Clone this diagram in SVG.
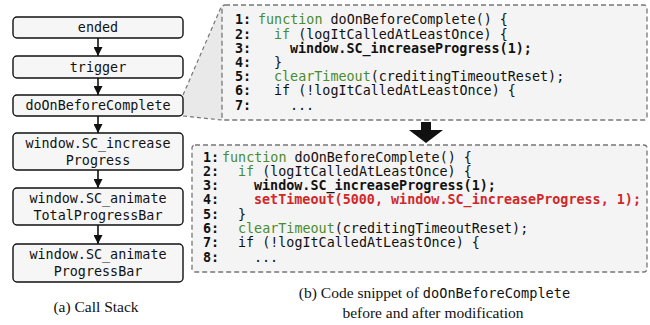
<svg xmlns="http://www.w3.org/2000/svg" width="650" height="325" viewBox="0 0 650 325">
<defs>
<style>
.box{fill:#f6f6f6;stroke:#111;stroke-width:1.4}
.code{fill:#f4f4f4;stroke:#777;stroke-width:1.3;stroke-dasharray:5,3}
.mono{font-family:"DejaVu Sans Mono","Liberation Mono",monospace;font-size:13.4px;fill:#111}
.lbl{text-anchor:middle}
.num{font-weight:bold}
.kw{fill:#4a8b2c}
.b{font-weight:bold}
.red{fill:#d0282a;font-weight:bold}
.cap{font-family:"Liberation Serif","Times New Roman",serif;font-size:15.5px;fill:#111;text-anchor:middle}
.conn{stroke:#111;stroke-width:1.6;fill:none}
</style>
<marker id="ah" viewBox="0 0 10 10" refX="10" refY="5" markerWidth="9" markerHeight="9" markerUnits="userSpaceOnUse" orient="auto">
<path d="M0,0 L10,5 L0,10 z" fill="#111"/>
</marker>
</defs>

<!-- zoom trapezoid -->
<g id="zoom">
<path d="M183,95 L222,5 L222,120 L183,116 Z" fill="#e9e9e9"/>
<path d="M183,95 L222,5 M183,116 L222,120" stroke="#777" stroke-width="1.2" stroke-dasharray="4,3" fill="none"/>
</g>

<g id="connectors">
<line class="conn" x1="98" y1="38" x2="98" y2="56" marker-end="url(#ah)"/>
<line class="conn" x1="98" y1="78" x2="98" y2="95" marker-end="url(#ah)"/>
<line class="conn" x1="98" y1="116" x2="98" y2="133" marker-end="url(#ah)"/>
<line class="conn" x1="98" y1="170" x2="98" y2="188" marker-end="url(#ah)"/>
<line class="conn" x1="98" y1="225" x2="98" y2="244" marker-end="url(#ah)"/>
<path id="blockarrow" d="M421,122 L431,122 L431,130 L443,130 L426,143 L409,130 L421,130 Z" fill="#111"/>
</g>

<g id="n-ended"><rect class="box" x="13" y="17" width="170" height="21" rx="4"/><text class="mono lbl" x="98" y="32">ended</text></g>
<g id="n-trigger"><rect class="box" x="13" y="56" width="170" height="22" rx="4"/><text class="mono lbl" x="98" y="71.5">trigger</text></g>
<g id="n-doOnBeforeComplete"><rect class="box" x="13" y="95" width="170" height="21" rx="4"/><text class="mono lbl" x="98" y="110">doOnBeforeComplete</text></g>
<g id="n-increase"><rect class="box" x="13" y="133" width="170" height="37" rx="4"/><text class="mono lbl" x="98" y="147.5">window.SC_increase</text><text class="mono lbl" x="98" y="164.5">Progress</text></g>
<g id="n-animateTotal"><rect class="box" x="13" y="188" width="170" height="37" rx="4"/><text class="mono lbl" x="98" y="202.5">window.SC_animate</text><text class="mono lbl" x="98" y="219.5">TotalProgressBar</text></g>
<g id="n-animateBar"><rect class="box" x="13" y="244" width="170" height="38" rx="4"/><text class="mono lbl" x="98" y="259">window.SC_animate</text><text class="mono lbl" x="98" y="276">ProgressBar</text></g>

<text class="cap" x="96" y="312">(a) Call Stack</text>

<!-- top code snippet -->
<g id="code-before">
<rect class="code" x="222" y="5" width="425" height="115" rx="3"/>
<g class="mono num">
<text x="235" y="24.4">1:</text>
<text x="235" y="38.6">2:</text>
<text x="235" y="52.8">3:</text>
<text x="235" y="67">4:</text>
<text x="235" y="81.2">5:</text>
<text x="235" y="95.4">6:</text>
<text x="235" y="109.6">7:</text>
</g>
<text class="mono" x="258" y="24.4"><tspan class="kw">function</tspan> doOnBeforeComplete() {</text>
<text class="mono" x="274" y="38.6"><tspan class="kw">if</tspan> (logItCalledAtLeastOnce) {</text>
<text class="mono b" x="290" y="52.8">window.SC_increaseProgress(1);</text>
<text class="mono" x="274" y="67">}</text>
<text class="mono" x="274" y="81.2"><tspan class="kw">clearTimeout</tspan>(creditingTimeoutReset);</text>
<text class="mono" x="274" y="95.4">if (!logItCalledAtLeastOnce) {</text>
<text class="mono" x="290" y="109.6">...</text>
</g>

<!-- bottom code snippet -->
<g id="code-after">
<rect class="code" x="192" y="145" width="455" height="127" rx="3"/>
<g class="mono num">
<text x="203" y="161.5">1:</text>
<text x="203" y="175.8">2:</text>
<text x="203" y="190.1">3:</text>
<text x="203" y="204.4">4:</text>
<text x="203" y="218.7">5:</text>
<text x="203" y="233">6:</text>
<text x="203" y="247.3">7:</text>
<text x="203" y="261.6">8:</text>
</g>
<text class="mono" x="222" y="161.5"><tspan class="kw">function</tspan> doOnBeforeComplete() {</text>
<text class="mono" x="238" y="175.8"><tspan class="kw">if</tspan> (logItCalledAtLeastOnce) {</text>
<text class="mono b" x="254" y="190.1">window.SC_increaseProgress(1);</text>
<text class="mono red" x="254" y="204.4">setTimeout(5000, window.SC_increaseProgress, 1);</text>
<text class="mono" x="238" y="218.7">}</text>
<text class="mono" x="238" y="233"><tspan class="kw">clearTimeout</tspan>(creditingTimeoutReset);</text>
<text class="mono" x="238" y="247.3">if (!logItCalledAtLeastOnce) {</text>
<text class="mono" x="254" y="261.6">...</text>
</g>

<text class="cap" x="434.5" y="298">(b) Code snippet of <tspan style="font-family:'DejaVu Sans Mono','Liberation Mono',monospace;font-size:13.6px">doOnBeforeComplete</tspan></text>
<text class="cap" x="433" y="318">before and after modification</text>
</svg>
